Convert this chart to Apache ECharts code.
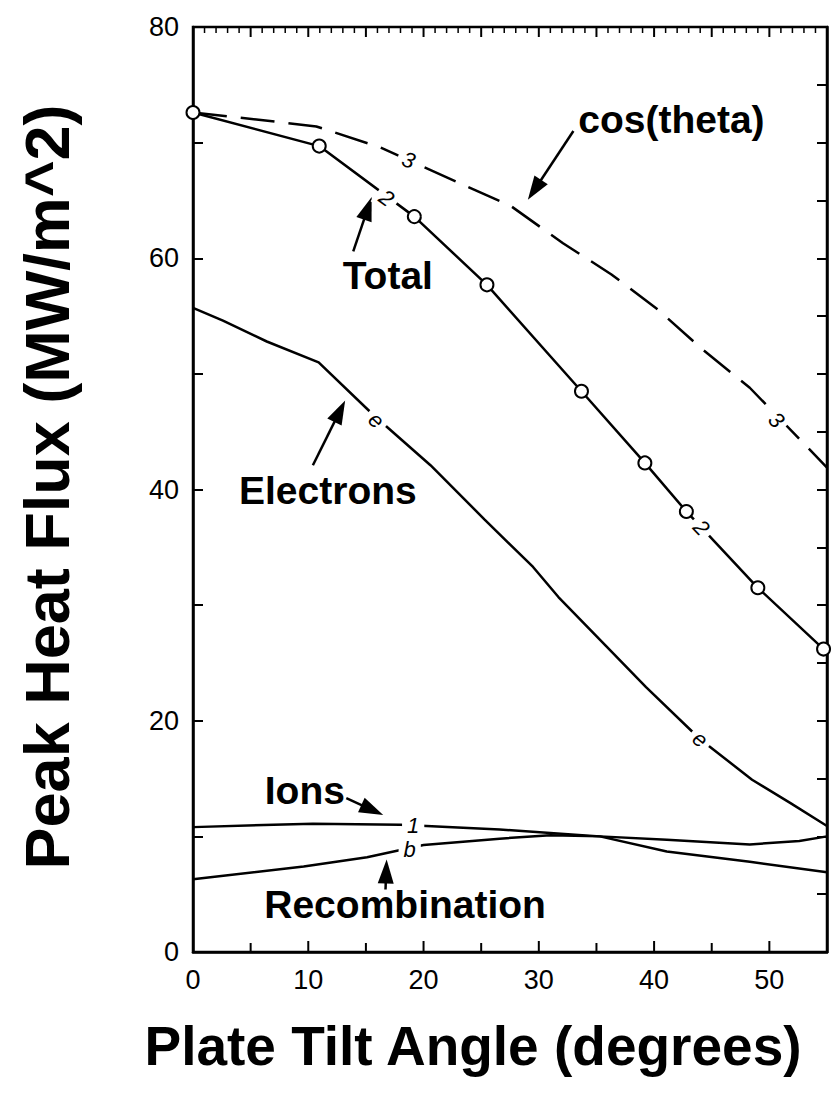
<!DOCTYPE html>
<html><head><meta charset="utf-8">
<script src="https://cdn.jsdelivr.net/npm/echarts@6/dist/echarts.min.js"></script>
<style>html,body{margin:0;padding:0;background:#fff}#c{width:832px;height:1099px}</style>
</head><body><div id="c"></div>
<script>
// ---- data ----
const xTicks = [0, 10, 20, 30, 40, 50];
const yTicks = [0, 20, 40, 60, 80];
const xMin = 0, xMax = 55, yMin = 0, yMax = 80;

const totalAngle = [0, 10.95, 19.2, 25.5, 33.7, 39.2, 42.8, 49.0, 54.7];
const totalFlux  = [72.6, 69.7, 63.6, 57.7, 48.5, 42.3, 38.1, 31.5, 26.2];

const cosAngle = [0, 5.5, 10.7, 16.2, 27.6, 32.1, 36.3, 40.4, 44.1, 48.3, 55];
const cosFlux  = [72.6, 72.0, 71.4, 69.6, 64.5, 61.3, 58.6, 55.5, 52.2, 48.8, 41.9];

const electronAngle = [0, 2.6, 6.4, 10.9, 15.7, 20.6, 25.3, 29.5, 31.7, 35.8, 39.3, 44.0, 48.5, 51.8, 55];
const electronFlux  = [55.7, 54.6, 52.8, 51.0, 46.4, 42.1, 37.4, 33.3, 30.7, 26.5, 22.9, 18.4, 14.9, 12.9, 10.9];

const ionAngle = [0, 10.4, 18.0, 26.6, 31.0, 35.3, 41.1, 48.3, 55];
const ionFlux  = [10.8, 11.1, 11.0, 10.6, 10.3, 10.0, 8.7, 7.8, 6.9];

const recombAngle = [0, 9.6, 15.1, 20.0, 26.6, 31.0, 35.3, 41.1, 48.3, 52.6, 55];
const recombFlux  = [6.3, 7.4, 8.2, 9.25, 9.8, 10.1, 10.0, 9.7, 9.3, 9.6, 10.0];

// in-line curve labels
const curveLabelText  = ['3', '3', '2', '2', 'e', 'e', '1', 'b'];
const curveLabelAngle = [18.7, 50.6, 16.8, 44.1, 15.9, 44.0, 19.1, 18.8];
const curveLabelFlux  = [68.5, 46.0, 65.2, 36.7, 46.0, 18.4, 10.9, 8.9];
const curveLabelTilt  = [20, 45, 36, 47, 43, 40, 0, 0];

// annotations
const noteText  = ['cos(theta)', 'Total', 'Electrons', 'Ions', 'Recombination'];
const noteAngle = [41.5, 16.9, 11.7, 9.7, 18.4];
const noteFlux  = [72.0, 58.5, 39.9, 14.0, 4.15];
const arrowFromAngle = [33.0, 13.9, 10.4, 13.3, 16.7];
const arrowFromFlux  = [71.0, 60.6, 42.1, 13.3, 5.4];
const arrowToAngle   = [29.05, 15.5, 13.2, 16.5, 16.8];
const arrowToFlux    = [65.05, 65.3, 47.7, 11.85, 8.0];

const FONT = "'Liberation Sans', Arial, Helvetica, sans-serif";
const zip = (a, b) => a.map((v, i) => [v, b[i]]);

// x-axis tick positions (top: every 1 unit, bottom: every 5 units)
const topTickPositions = [];
for (let v = xMin; v <= xMax; v += 1) topTickPositions.push(v);
const bottomTickPositions = topTickPositions.filter(v => v % 5 === 0);

const chart = echarts.init(document.getElementById('c'), null, {renderer: 'svg'});

function lineSeries(name, data, extra) {
  return Object.assign({
    type: 'line', name: name, data: data, showSymbol: false, symbol: 'none', silent: true,
    animation: false, z: 3,
    lineStyle: {color: '#000', width: 2.5}
  }, extra || {});
}
function tickStyle() { return {color: '#000', width: 2}; }

chart.setOption({
  backgroundColor: '#fff',
  animation: false,
  grid: {left: 193, right: 5, top: 27, bottom: 147, containLabel: false,
         show: true, borderColor: '#000', borderWidth: 2.5, backgroundColor: 'transparent'},
  xAxis: {type: 'value', position: 'bottom', min: xMin, max: xMax, interval: 5,
     axisLine: {show: true, onZero: false, lineStyle: {color: '#000', width: 2.5}},
     axisTick: {show: false},
     axisLabel: {show: true, color: '#000', fontFamily: FONT, fontSize: 27, margin: 14,
       formatter: v => xTicks.indexOf(v) >= 0 ? String(v) : ''},
     splitLine: {show: false}},
  yAxis: [
    {type: 'value', position: 'left', min: yMin, max: yMax, interval: 10,
     axisLine: {show: true, onZero: false, lineStyle: {color: '#000', width: 2.5}},
     axisTick: {show: true, inside: true, length: 10, lineStyle: tickStyle()},
     axisLabel: {color: '#000', fontFamily: FONT, fontSize: 27, margin: 14,
       formatter: v => yTicks.indexOf(v) >= 0 ? String(v) : ''},
     splitLine: {show: false}},
    {type: 'value', position: 'right', min: yMin, max: yMax, interval: 5,
     axisLine: {show: true, onZero: false, lineStyle: {color: '#000', width: 2.5}},
     axisTick: {show: true, inside: true, length: 10, lineStyle: tickStyle()},
     axisLabel: {show: false}, splitLine: {show: false}}
  ],
  graphic: [
    {type: 'text', x: 473, y: 1046,
     style: {text: 'Plate Tilt Angle (degrees)', font: `bold 55px ${FONT}`, fill: '#000',
       textAlign: 'center', textVerticalAlign: 'middle'}},
    {type: 'text', x: 47, y: 487, rotation: Math.PI / 2,
     style: {text: 'Peak Heat Flux (MW/m^2)', font: `bold 63px ${FONT}`, fill: '#000',
       textAlign: 'center', textVerticalAlign: 'middle'}}
  ],
  series: [
    // bottom x-axis tick marks (every 5 units), placed through the x scale
    {type: 'custom', name: 'bottom ticks', silent: true, z: 10, clip: false,
     data: bottomTickPositions.map(v => [v, yMin]),
     encode: {x: 0, y: 1},
     renderItem: (params, api) => {
       const v = api.value(0);
       const p = api.coord([v, yMin]);
       const ten = v % 10 === 0;
       return {type: 'rect', shape: {x: p[0] - 1, y: p[1] - (ten ? 11 : 9), width: 2, height: ten ? 11 : 9},
         style: {fill: '#000'}};
     }},
    // top x-axis tick marks (every unit, longer every 5)
    {type: 'custom', name: 'top ticks', silent: true, z: 10, clip: false,
     data: topTickPositions.map(v => [v, yMax - 1]),
     encode: {x: 0, y: 1},
     renderItem: (params, api) => {
       const v = api.value(0);
       const p = api.coord([v, yMax]);
       const five = v % 5 === 0;
       return {type: 'rect', shape: {x: p[0] - (five ? 1 : 0.75), y: p[1], width: five ? 2 : 1.5, height: five ? 10 : 6},
         style: {fill: '#000'}};
     }},
    lineSeries('cos(theta)', zip(cosAngle, cosFlux),
      {lineStyle: {color: '#000', width: 2.5, type: [34, 14]}}),
    lineSeries('Total', zip(totalAngle, totalFlux),
      {showSymbol: true, symbol: 'emptyCircle', symbolSize: 13,
       itemStyle: {color: '#000', borderColor: '#000', borderWidth: 2.2}, z: 4}),
    lineSeries('Electrons', zip(electronAngle, electronFlux)),
    lineSeries('Ions', zip(ionAngle, ionFlux)),
    lineSeries('Recombination', zip(recombAngle, recombFlux)),
    {type: 'custom', name: 'curve labels', silent: true, z: 6,
     data: curveLabelText.map((t, i) => [curveLabelAngle[i], curveLabelFlux[i]]),
     encode: {x: 0, y: 1},
     renderItem: (params, api) => {
       const i = params.dataIndex;
       const p = api.coord([api.value(0), api.value(1)]);
       return {type: 'text', x: p[0], y: p[1], rotation: -curveLabelTilt[i] * Math.PI / 180,
         style: {text: curveLabelText[i], font: `italic 22px ${FONT}`, fill: '#000',
           textAlign: 'center', textVerticalAlign: 'middle',
           backgroundColor: '#fff', padding: [1, 5]}};
     }},
    {type: 'custom', name: 'arrows', silent: true, z: 5,
     data: arrowFromAngle.map((v, i) => [v, arrowFromFlux[i], arrowToAngle[i], arrowToFlux[i]]),
     encode: {x: [0, 2], y: [1, 3]},
     renderItem: (params, api) => {
       const p1 = api.coord([api.value(0), api.value(1)]);
       const p2 = api.coord([api.value(2), api.value(3)]);
       const dx = p2[0] - p1[0], dy = p2[1] - p1[1], L = Math.hypot(dx, dy);
       const ux = dx / L, uy = dy / L, head = 24, hw = 8;
       const bx = p2[0] - ux * head, by = p2[1] - uy * head;
       return {type: 'group', children: [
         {type: 'line', shape: {x1: p1[0], y1: p1[1], x2: bx + ux * 2, y2: by + uy * 2},
          style: {stroke: '#000', lineWidth: 2.5}},
         {type: 'polygon', shape: {points: [[p2[0], p2[1]], [bx - uy * hw, by + ux * hw], [bx + uy * hw, by - ux * hw]]},
          style: {fill: '#000'}}
       ]};
     }},
    {type: 'custom', name: 'notes', silent: true, z: 7,
     data: noteText.map((t, i) => [noteAngle[i], noteFlux[i]]),
     encode: {x: 0, y: 1},
     renderItem: (params, api) => {
       const i = params.dataIndex;
       const p = api.coord([api.value(0), api.value(1)]);
       return {type: 'text', x: p[0], y: p[1],
         style: {text: noteText[i], font: `bold 39px ${FONT}`, fill: '#000',
           textAlign: 'center', textVerticalAlign: 'middle'}};
     }}
  ]
});
</script></body></html>
